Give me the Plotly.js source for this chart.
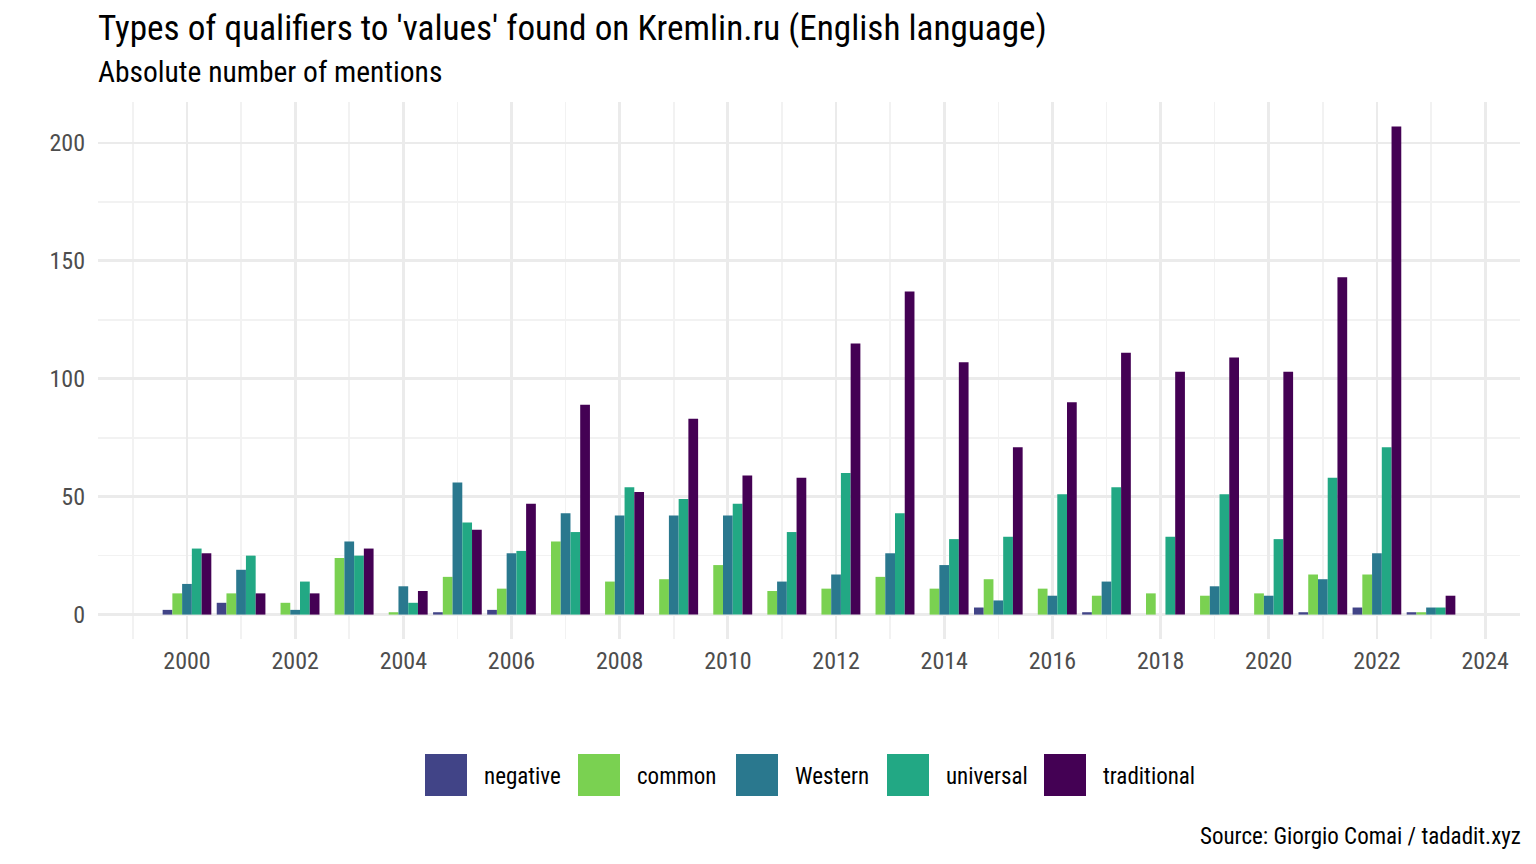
<!DOCTYPE html>
<html>
<head>
<meta charset="utf-8">
<script src="https://cdn.plot.ly/plotly-3.0.1.min.js"></script>
<style>
html, body { margin: 0; padding: 0; background: #ffffff; }
#chart { width: 1536px; height: 864px; }
</style>
</head>
<body>
<div id="chart"></div>
<script>
// ---- data ----
const years = [2000, 2001, 2002, 2003, 2004, 2005, 2006, 2007, 2008, 2009, 2010, 2011,
               2012, 2013, 2014, 2015, 2016, 2017, 2018, 2019, 2020, 2021, 2022, 2023];
const seriesNames = ["negative", "common", "Western", "universal", "traditional"];
const negative    = [2, 5, 0, 0, 0, 1, 2, 0, 0, 0, 0, 0, 0, 0, 0, 3, 0, 1, 0, 0, 0, 1, 3, 1];
const common      = [9, 9, 5, 24, 1, 16, 11, 31, 14, 15, 21, 10, 11, 16, 11, 15, 11, 8, 9, 8, 9, 17, 17, 1];
const western     = [13, 19, 2, 31, 12, 56, 26, 43, 42, 42, 42, 14, 17, 26, 21, 6, 8, 14, 0, 12, 8, 15, 26, 3];
const universal   = [28, 25, 14, 25, 5, 39, 27, 35, 54, 49, 47, 35, 60, 43, 32, 33, 51, 54, 33, 51, 32, 58, 71, 3];
const traditional = [26, 9, 9, 28, 10, 36, 47, 89, 52, 83, 59, 58, 115, 137, 107, 71, 90, 111, 103, 109, 103, 143, 207, 8];
const xTickVals   = [2000, 2002, 2004, 2006, 2008, 2010, 2012, 2014, 2016, 2018, 2020, 2022, 2024];
const yTickVals   = [0, 50, 100, 150, 200];
const titleText    = "Types of qualifiers to 'values' found on Kremlin.ru (English language)";
const subtitleText = "Absolute number of mentions";
const captionText  = "Source: Giorgio Comai / tadadit.xyz";

// ---- styles ----
const colors = ["#414487", "#7AD151", "#2A788E", "#22A884", "#440154"];
const FONT = "'Roboto Condensed', 'Liberation Sans Narrow', 'DejaVu Sans Condensed', Roboto, sans-serif";
const W = 1536, H = 864;
const plotL = 98, plotR = 1520, plotT = 102, plotB = 639;
const px2paperX = p => (p - plotL) / (plotR - plotL);
const px2paperY = p => (plotB - p) / (plotB - plotT);

const valueSets = [negative, common, western, universal, traditional];
const traces = valueSets.map((vals, i) => ({
  type: "bar",
  name: seriesNames[i],
  x: years,
  y: vals,
  marker: { color: colors[i], line: { width: 0 } },
  showlegend: false,
  hoverinfo: "x+y+name"
}));

// custom legend (large square keys like the original)
const legendSwatchLeft = [425, 578, 736, 887, 1044];
const legendTextLeft   = [484, 637, 795, 946, 1103];
const legendTop = 754, legendBottom = 796, legendMid = 776;
const shapes = seriesNames.map((n, i) => ({
  type: "rect", xref: "paper", yref: "paper",
  x0: px2paperX(legendSwatchLeft[i]), x1: px2paperX(legendSwatchLeft[i] + 42),
  y0: px2paperY(legendBottom), y1: px2paperY(legendTop),
  fillcolor: colors[i], line: { width: 0 }, layer: "above"
}));
const annotations = seriesNames.map((n, i) => ({
  xref: "paper", yref: "paper",
  x: px2paperX(legendTextLeft[i]), y: px2paperY(legendMid),
  xanchor: "left", yanchor: "middle", xshift: -2,
  text: n, showarrow: false,
  font: { family: FONT, size: 23, color: "#000000" }
}));
annotations.push({
  xref: "paper", yref: "paper",
  x: 0, y: px2paperY(72), xanchor: "left", yanchor: "middle", xshift: -2,
  text: subtitleText, showarrow: false,
  font: { family: FONT, size: 29.5, color: "#000000" }
});
annotations.push({
  xref: "paper", yref: "paper",
  x: 1, y: px2paperY(836), xanchor: "right", yanchor: "middle", xshift: 3,
  text: captionText, showarrow: false,
  font: { family: FONT, size: 23, color: "#000000" }
});

const layout = {
  width: W, height: H,
  paper_bgcolor: "#ffffff", plot_bgcolor: "#ffffff",
  margin: { l: plotL, r: W - plotR, t: plotT, b: H - plotB, pad: 0 },
  barmode: "group", bargap: 0.1, bargroupgap: 0,
  showlegend: false,
  title: {
    text: titleText,
    xref: "container", yref: "container",
    x: plotL / W, xanchor: "left",
    y: 1 - 28 / H, yanchor: "middle",
    font: { family: FONT, size: 35.2, color: "#000000" }
  },
  xaxis: {
    range: [1998.355, 2024.645],
    tickmode: "array", tickvals: xTickVals, ticktext: xTickVals.map(String),
    showgrid: true, gridcolor: "#EBEBEB", gridwidth: 2.8,
    minor: { dtick: 1, tick0: 1999, showgrid: true, gridcolor: "#F2F2F2", gridwidth: 1.6 },
    zeroline: false, showline: false, ticks: "",
    tickfont: { family: FONT, size: 24, color: "#4D4D4D" },
    ticklabelstandoff: 5
  },
  yaxis: {
    range: [-10.35, 217.35],
    tickmode: "array", tickvals: yTickVals, ticktext: yTickVals.map(String),
    showgrid: true, gridcolor: "#EBEBEB", gridwidth: 2.8,
    minor: { dtick: 25, tick0: 0, showgrid: true, gridcolor: "#F2F2F2", gridwidth: 1.6 },
    zeroline: false, showline: false, ticks: "",
    tickfont: { family: FONT, size: 24, color: "#4D4D4D" },
    ticklabelstandoff: 12
  },
  shapes: shapes,
  annotations: annotations
};

Plotly.newPlot("chart", traces, layout, { staticPlot: true, displayModeBar: false });
</script>
</body>
</html>
